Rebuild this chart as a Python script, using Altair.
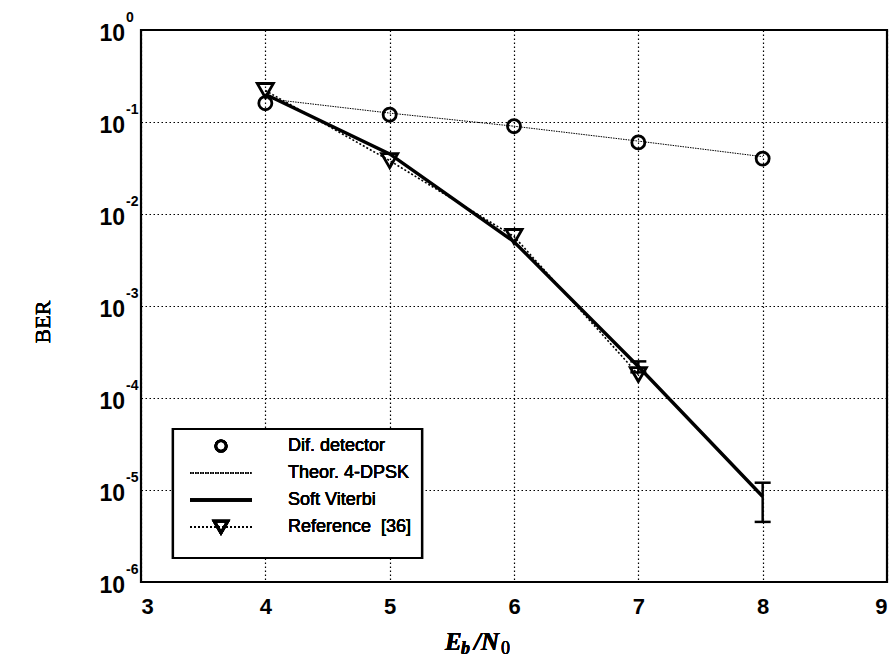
import altair as alt
import pandas as pd

# ---- data ----
snr_dif = [4, 5, 6, 7, 8]
ber_dif = [0.16, 0.12, 0.09, 0.06, 0.04]

snr_theor = [4, 5, 6, 7, 8]
ber_theor = [0.18, 0.125, 0.09, 0.062, 0.042]

snr_soft = [4, 5, 6, 7, 8]
ber_soft = [0.2, 0.045, 0.005, 0.00022, 0.0000085]

snr_ref = [4, 5, 6, 7]
ber_ref = [0.22, 0.038, 0.0057, 0.00018]

err_snr = [7, 8]
err_lo = [0.00019, 0.0000045]
err_hi = [0.00025, 0.000012]

y_exps = [0, -1, -2, -3, -4, -5, -6]
x_ticks = [3, 4, 5, 6, 7, 8, 9]

legend_labels = ["Dif. detector", "Theor. 4-DPSK", "Soft Viterbi", "Reference\u00a0 [36]"]

W, H = 746, 552
SANS = "Liberation Sans"
SERIF = "Liberation Serif"

xs = alt.Scale(domain=[3, 9], nice=False, zero=False)
ys = alt.Scale(type="log", domain=[1e-6, 1], nice=False)

df_dif = pd.DataFrame({"x": snr_dif, "y": ber_dif})
df_theor = pd.DataFrame({"x": snr_theor, "y": ber_theor})
df_soft = pd.DataFrame({"x": snr_soft, "y": ber_soft})
df_ref = pd.DataFrame({"x": snr_ref, "y": ber_ref})
df_err = pd.DataFrame({"x": err_snr, "lo": err_lo, "hi": err_hi})
df_ylab = pd.DataFrame({"v": [10.0 ** e for e in y_exps], "e": [str(e) for e in y_exps]})

grid_kw = dict(gridColor="black", gridDash=[1.5, 2.5], gridWidth=1.2, gridOpacity=1)
X = alt.X("x:Q", scale=xs, axis=alt.Axis(values=x_ticks, format="d", title=None, grid=True, ticks=False,
                                          domain=False, labelFont=SANS, labelFontSize=22,
                                          labelFontWeight="bold", labelColor="black",
                                          labelPadding=14, **grid_kw))
Y = alt.Y("y:Q", scale=ys, axis=alt.Axis(values=[10.0 ** e for e in y_exps], title=None, grid=True,
                                          ticks=False, domain=False, labels=False, **grid_kw))

base_axes = alt.Chart(df_dif).mark_point(opacity=0).encode(x=X, y=Y)

enc = dict(x=alt.X("x:Q", scale=xs), y=alt.Y("y:Q", scale=ys))
theor = alt.Chart(df_theor).mark_line(color="black", strokeWidth=1, strokeDash=[1.5, 1]).encode(**enc)
ref_line = alt.Chart(df_ref).mark_line(color="black", strokeWidth=1.6, strokeDash=[2, 2]).encode(**enc)
soft = alt.Chart(df_soft).mark_line(color="black", strokeWidth=3.4).encode(**enc)
dif_pts = alt.Chart(df_dif).mark_point(shape="circle", size=170, color="black", strokeWidth=2.8,
                                        filled=False, opacity=1).encode(**enc)
ref_pts = alt.Chart(df_ref).mark_point(shape="triangle-down", size=260, color="black", strokeWidth=2.8,
                                        filled=False, opacity=1).encode(**enc)
err_rule = alt.Chart(df_err).mark_rule(color="black", strokeWidth=2.5).encode(
    x=alt.X("x:Q", scale=xs), y=alt.Y("lo:Q", scale=ys), y2="hi:Q")
err_cap_lo = alt.Chart(df_err).mark_tick(color="black", orient="horizontal", size=16, thickness=2.5,
                                         opacity=1).encode(x=alt.X("x:Q", scale=xs), y=alt.Y("lo:Q", scale=ys))
err_cap_hi = alt.Chart(df_err).mark_tick(color="black", orient="horizontal", size=16, thickness=2.5,
                                         opacity=1).encode(x=alt.X("x:Q", scale=xs), y=alt.Y("hi:Q", scale=ys))

# y tick labels: "10" with a superscript exponent
ylab10 = alt.Chart(df_ylab).mark_text(text="10", font=SANS, fontSize=23, fontWeight="bold",
                                      align="right", baseline="middle", dy=4, color="black").encode(
    x=alt.value(-16), y=alt.Y("v:Q", scale=ys))
ylabexp = alt.Chart(df_ylab).mark_text(font=SANS, fontSize=14, fontWeight="bold",
                                       align="left", baseline="middle", dy=-12, color="black").encode(
    x=alt.value(-15), y=alt.Y("v:Q", scale=ys), text="e:N")

# axis titles
ber_title = alt.Chart(df_dif).mark_text(text="BER", font=SERIF, fontSize=22, angle=270,
                                        align="center", baseline="middle", color="black").encode(
    x=alt.value(-98), y=alt.value(292))
tkw = dict(font=SERIF, fontStyle="italic", fontWeight="bold", align="left", baseline="alphabetic",
           color="black")
xt_E = alt.Chart(df_dif).mark_text(text="E", fontSize=25, **tkw).encode(x=alt.value(304), y=alt.value(H + 68))
xt_b = alt.Chart(df_dif).mark_text(text="b", fontSize=18, **tkw).encode(x=alt.value(320), y=alt.value(H + 72))
xt_N = alt.Chart(df_dif).mark_text(text="/N", fontSize=25, **tkw).encode(x=alt.value(333), y=alt.value(H + 68))
xt_0 = alt.Chart(df_dif).mark_text(text="0", font=SERIF, fontSize=18, align="left", baseline="alphabetic",
                                   color="black").encode(x=alt.value(360), y=alt.value(H + 72))

# legend
LX0, LX1, LY0, LY1 = 32, 281, 399, 528
rows = [416, 443, 470, 497]
leg_box = alt.Chart(df_dif).mark_rect(fill="white", stroke="black", strokeWidth=2.2).encode(
    x=alt.value(LX0), x2=alt.value(LX1), y=alt.value(LY0), y2=alt.value(LY1))
leg_texts = [alt.Chart(df_dif).mark_text(text=t, font=SANS, fontSize=18, align="left",
                                         baseline="middle", color="black").encode(
    x=alt.value(147), y=alt.value(r)) for t, r in zip(legend_labels, rows)]
leg_c = alt.Chart(df_dif).mark_point(shape="circle", size=110, color="black", strokeWidth=2.6,
                                     filled=False, opacity=1).encode(x=alt.value(80), y=alt.value(rows[0]))
leg_theor = alt.Chart(df_dif).mark_rule(color="black", strokeWidth=1, strokeDash=[1.5, 1]).encode(
    x=alt.value(49), x2=alt.value(111), y=alt.value(rows[1]))
leg_soft = alt.Chart(df_dif).mark_rule(color="black", strokeWidth=3.2).encode(
    x=alt.value(49), x2=alt.value(111), y=alt.value(rows[2]))
leg_ref = alt.Chart(df_dif).mark_rule(color="black", strokeWidth=1.5, strokeDash=[2, 2]).encode(
    x=alt.value(49), x2=alt.value(111), y=alt.value(rows[3]))
leg_tri = alt.Chart(df_dif).mark_point(shape="triangle-down", size=190, color="black", strokeWidth=2.8,
                                       filled=False, opacity=1).encode(x=alt.value(80), y=alt.value(rows[3]))

chart = alt.layer(
    base_axes, theor, ref_line, soft, dif_pts, ref_pts, err_rule, err_cap_lo, err_cap_hi,
    ylab10, ylabexp, ber_title, xt_E, xt_b, xt_N, xt_0,
    leg_box, *leg_texts, leg_c, leg_theor, leg_soft, leg_ref, leg_tri
).properties(
    width=W, height=H,
    autosize=alt.AutoSizeParams(type="none"),
    padding={"left": 141, "top": 30, "right": 8, "bottom": 80},
    background="white",
).configure_view(stroke="black", strokeWidth=2.2)

chart.save("out.html", embed_options={"renderer": "svg", "actions": False})
